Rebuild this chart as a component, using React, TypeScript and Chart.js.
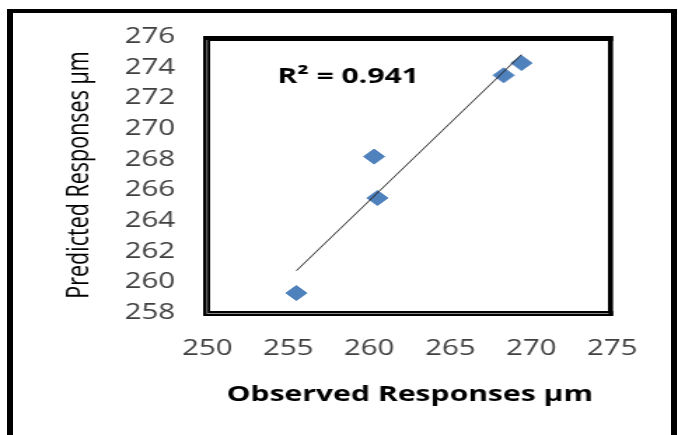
import React, { useEffect, useRef } from "react";
import { Chart, registerables } from "chart.js";

Chart.register(...registerables);

// ---- data ----
const observed = [255.5, 260.3, 260.5, 268.3, 269.4];
const predicted = [259.3, 268.2, 265.5, 273.5, 274.3];
const xTitle = "Observed Responses µm";
const yTitle = "Predicted Responses µm";
const r2Label = "R² = 0.941";
const xMin = 250, xMax = 275, xStep = 5;
const yMin = 258, yMax = 276, yStep = 2;

const CANVAS_W = 484;
const CANVAS_H = 435;
const SCALE_X = 678 / CANVAS_W;
const FONT = '"Open Sans", "DejaVu Sans", sans-serif';

function linearFit(xs: number[], ys: number[]) {
  const n = xs.length;
  const mx = xs.reduce((a, b) => a + b, 0) / n;
  const my = ys.reduce((a, b) => a + b, 0) / n;
  let sxy = 0, sxx = 0;
  for (let i = 0; i < n; i++) {
    sxy += (xs[i] - mx) * (ys[i] - my);
    sxx += (xs[i] - mx) * (xs[i] - mx);
  }
  const slope = sxy / sxx;
  return { slope, intercept: my - slope * mx };
}

const framePlugin = {
  id: "frame",
  afterDatasetsDraw(chart: any) {
    const { ctx, chartArea: a } = chart;
    ctx.save();
    ctx.fillStyle = "#000";
    // left, top, right, bottom edges of the plot box
    ctx.fillRect(a.left - 3, a.top - 1, 5, a.bottom - a.top + 4);
    ctx.fillRect(a.left - 3, a.top - 1, a.right - a.left + 3.6, 5);
    ctx.fillRect(a.right - 3, a.top - 1, 3.6, a.bottom - a.top + 4);
    ctx.fillRect(a.left - 3, a.bottom - 2, a.right - a.left + 3.6, 5);
    // faint inner stripes (double-line look)
    ctx.fillStyle = "#9a9a9a";
    ctx.fillRect(a.left - 0.6, a.top + 3, 0.8, a.bottom - a.top - 3);
    ctx.fillRect(a.left - 0.6, a.bottom, a.right - a.left - 2, 0.9);
    // R² label
    ctx.fillStyle = "#000";
    ctx.font = `bold 21.5px ${FONT}`;
    ctx.textBaseline = "alphabetic";
    ctx.textAlign = "left";
    ctx.fillText(r2Label, 198, 83);
    ctx.restore();
  },
};

export default function App() {
  const canvasRef = useRef<HTMLCanvasElement | null>(null);

  useEffect(() => {
    let chart: Chart | null = null;
    let cancelled = false;
    const make = () => {
      if (cancelled || !canvasRef.current) return;
      const points = observed.map((x, i) => ({ x, y: predicted[i] }));
      const { slope, intercept } = linearFit(observed, predicted);
      const lo = Math.min(...observed);
      const hi = Math.max(...observed);
      const trend = [
        { x: lo, y: intercept + slope * lo },
        { x: hi, y: intercept + slope * hi },
      ];
      chart = new Chart(canvasRef.current, {
        type: "scatter",
        data: {
          datasets: [
            {
              type: "line",
              data: trend,
              borderColor: "#2a2a2a",
              borderWidth: 1,
              pointRadius: 0,
              fill: false,
              order: 0,
            } as any,
            {
              type: "scatter",
              data: points,
              pointStyle: "rectRot",
              pointRadius: 7.5,
              backgroundColor: "#4F81BD",
              borderColor: "#4F81BD",
              borderWidth: 1,
              order: 1,
            } as any,
          ],
        },
        options: {
          responsive: false,
          animation: false,
          events: [],
          layout: { padding: { left: 30, right: 47, top: 37, bottom: 27 } },
          plugins: { legend: { display: false }, tooltip: { enabled: false } },
          scales: {
            x: {
              type: "linear",
              min: xMin,
              max: xMax,
              grid: { display: false, drawTicks: false },
              border: { display: false },
              ticks: {
                stepSize: xStep,
                autoSkip: false,
                maxRotation: 0,
                minRotation: 0,
                padding: 23,
                color: "#404040",
                font: { family: FONT, size: 21 },
              },
              title: {
                display: true,
                text: xTitle,
                color: "#000",
                font: { family: FONT, size: 21.5, weight: "bold" },
                padding: 0,
              },
              afterFit: (s: any) => {
                s.height = 95;
              },
            },
            y: {
              type: "linear",
              min: yMin,
              max: yMax,
              grid: { display: false, drawTicks: false },
              border: { display: false },
              ticks: {
                stepSize: yStep,
                autoSkip: false,
                padding: 23,
                color: "#404040",
                font: { family: FONT, size: 21 },
              },
              title: {
                display: true,
                text: yTitle,
                color: "#000",
                font: { family: FONT, size: 21.5 },
                padding: { top: 14, bottom: 0 },
              },
              afterFit: (s: any) => {
                s.width = 118;
              },
            },
          },
        },
        plugins: [framePlugin],
      });
    };
    const fonts: Promise<any>[] = [];
    try {
      fonts.push((document as any).fonts.load(`21px "Open Sans"`));
      fonts.push((document as any).fonts.load(`bold 21px "Open Sans"`));
    } catch (e) {}
    Promise.all(fonts).then(make, make);
    return () => {
      cancelled = true;
      if (chart) chart.destroy();
    };
  }, []);

  return (
    <div
      style={{
        position: "fixed",
        left: 0,
        top: 0,
        width: 678,
        height: 435,
        overflow: "hidden",
        background: "#fff",
      }}
    >
      <div
        style={{
          position: "absolute",
          left: 0,
          top: 0,
          width: CANVAS_W,
          height: CANVAS_H,
          transform: `scaleX(${SCALE_X})`,
          transformOrigin: "0 0",
        }}
      >
        <canvas ref={canvasRef} width={CANVAS_W} height={CANVAS_H} />
      </div>
      <div
        style={{
          position: "absolute",
          left: 7,
          top: 9,
          width: 670,
          height: 600,
          boxSizing: "border-box",
          borderLeft: "6px solid #000",
          borderTop: "4px solid #000",
          borderRight: "6px solid #000",
          pointerEvents: "none",
        }}
      />
    </div>
  );
}
